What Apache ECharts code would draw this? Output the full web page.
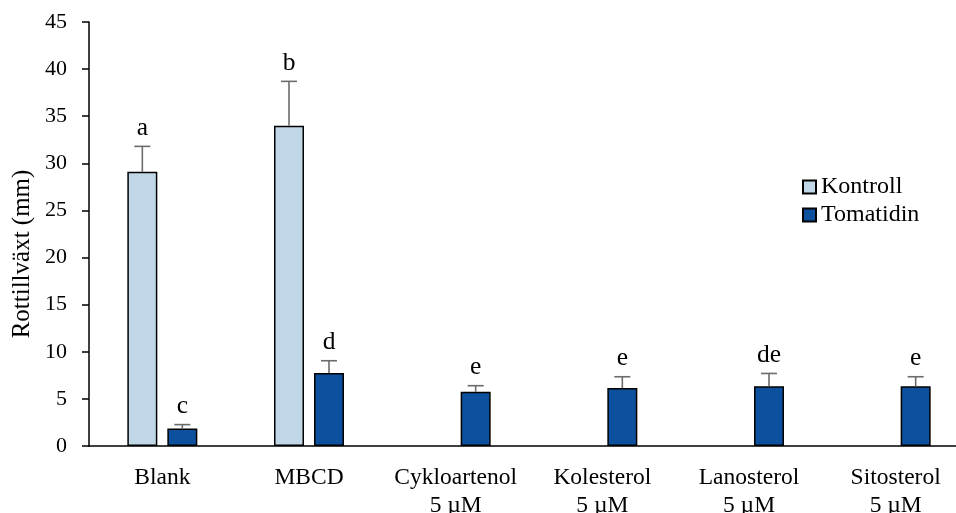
<!DOCTYPE html>
<html>
<head>
<meta charset="utf-8">
<script src="https://cdn.jsdelivr.net/npm/echarts@6/dist/echarts.min.js"></script>
<style>html,body{margin:0;padding:0;background:#fff}#c{width:956px;height:513px}</style>
</head>
<body>
<div id="c"></div>
<script>
var categories = ['Blank', 'MBCD', 'Cykloartenol\n5 µM', 'Kolesterol\n5 µM', 'Lanosterol\n5 µM', 'Sitosterol\n5 µM'];
var kontroll = [29.1, 34.0, null, null, null, null];
var kontrollErr = [2.7, 4.7, null, null, null, null];
var kontrollLetters = ['a', 'b', '', '', '', ''];
var tomatidin = [1.85, 7.75, 5.75, 6.15, 6.35, 6.35];
var tomatidinErr = [0.42, 1.3, 0.65, 1.2, 1.35, 1.0];
var tomatidinLetters = ['c', 'd', 'e', 'e', 'de', 'e'];
var yTicks = [0, 5, 10, 15, 20, 25, 30, 35, 40, 45];

var FONT = '"Liberation Serif", "Times New Roman", serif';
var BAR_W = 30, GAP = 10;

function errData(vals, errs) {
  var out = [];
  for (var i = 0; i < vals.length; i++) {
    if (vals[i] == null) continue;
    out.push([i, vals[i], vals[i] + errs[i]]);
  }
  return out;
}

function makeRender(offset, letters) {
  return function (params, api) {
    var i = api.value(0);
    var base = api.coord([i, api.value(1)]);
    var top = api.coord([i, api.value(2)]);
    var x = base[0] + offset;
    var letter = letters[i] || '';
    return {
      type: 'group',
      children: [
        {type: 'line', shape: {x1: x, y1: base[1], x2: x, y2: top[1]}, style: {stroke: '#6b6b6b', lineWidth: 1.6}},
        {type: 'line', shape: {x1: x - 8, y1: top[1], x2: x + 8, y2: top[1]}, style: {stroke: '#6b6b6b', lineWidth: 1.6}},
        {type: 'text', x: x, y: top[1] - 5, style: {text: letter, fontFamily: FONT, fontSize: 25.5, fill: '#000', align: 'center', verticalAlign: 'bottom'}}
      ]
    };
  };
}

var chart = echarts.init(document.getElementById('c'));
chart.setOption({
  animation: false,
  backgroundColor: '#fff',
  grid: {left: 89, top: 22, width: 880, height: 424, containLabel: false, outerBoundsMode: 'none'},
  legend: {
    orient: 'vertical', left: 797, top: 170,
    icon: 'rect',
    itemWidth: 13, itemHeight: 13, itemGap: 4,
    data: ['Kontroll', 'Tomatidin'],
    textStyle: {fontFamily: FONT, fontSize: 24, color: '#000', lineHeight: 24}
  },
  xAxis: {
    type: 'category', data: categories,
    axisLine: {lineStyle: {color: '#000', width: 1.5}},
    axisTick: {show: false},
    axisLabel: {fontFamily: FONT, fontSize: 23.5, color: '#000', margin: 18, lineHeight: 28, interval: 0}
  },
  yAxis: {
    type: 'value', min: 0, max: 45, interval: 5,
    axisLine: {show: true, lineStyle: {color: '#000', width: 1.5}},
    axisTick: {show: true, length: 7, lineStyle: {color: '#000', width: 1.5}},
    splitLine: {show: false},
    axisLabel: {fontFamily: FONT, fontSize: 22, color: '#000', margin: 22,
      formatter: function (v) { return yTicks.indexOf(v) >= 0 ? String(v) : ''; }}
  },
  graphic: [{
    type: 'text', x: 22, y: 254, rotation: Math.PI / 2,
    style: {text: 'Rottillväxt (mm)', fontFamily: FONT, fontSize: 25, fill: '#000', align: 'center', verticalAlign: 'middle'}
  }],
  series: [
    {name: 'Kontroll', type: 'bar', data: kontroll, barWidth: BAR_W, barGap: (GAP / BAR_W * 100) + '%',
      itemStyle: {color: '#BFD7E6', borderColor: '#000', borderWidth: 1.5}},
    {name: 'Tomatidin', type: 'bar', data: tomatidin, barWidth: BAR_W,
      itemStyle: {color: '#0C509E', borderColor: '#000', borderWidth: 1.5}},
    {type: 'custom', renderItem: makeRender(-(BAR_W + GAP) / 2, kontrollLetters), data: errData(kontroll, kontrollErr), z: 5, silent: true},
    {type: 'custom', renderItem: makeRender((BAR_W + GAP) / 2, tomatidinLetters), data: errData(tomatidin, tomatidinErr), z: 5, silent: true}
  ]
});
</script>
</body>
</html>
